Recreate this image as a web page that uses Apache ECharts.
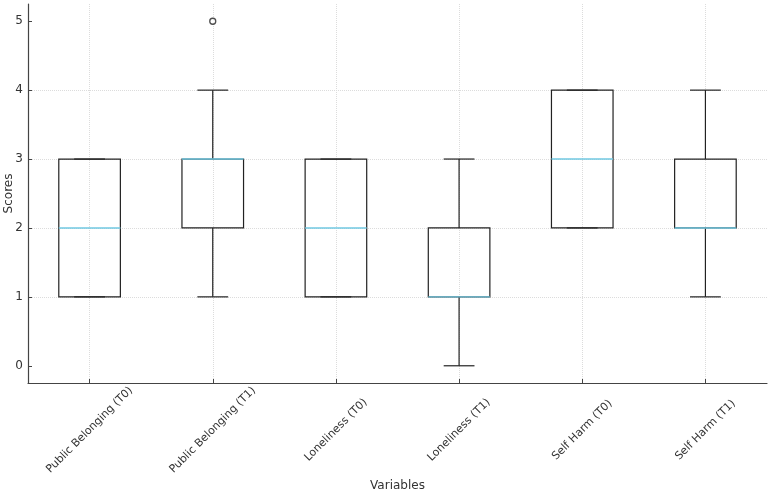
<!DOCTYPE html>
<html>
<head>
<meta charset="utf-8">
<script src="https://cdn.jsdelivr.net/npm/echarts@6/dist/echarts.min.js"></script>
<style>
  html, body { margin: 0; padding: 0; background: #fff; }
  #main { width: 771px; height: 493px; }
</style>
</head>
<body>
<div id="main"></div>
<script>
var categories = ['Public Belonging (T0)', 'Public Belonging (T1)', 'Loneliness (T0)',
                  'Loneliness (T1)', 'Self Harm (T0)', 'Self Harm (T1)'];
var lows    = [1, 1, 1, 0, 2, 1];
var q1s     = [1, 2, 1, 1, 2, 2];
var medians = [2, 3, 2, 1, 3, 2];
var q3s     = [3, 3, 3, 2, 4, 3];
var highs   = [3, 4, 3, 3, 4, 4];
var outliers = [[1, 5]];
var yTicks = [0, 1, 2, 3, 4, 5];
var xTicks = [0, 1, 2, 3, 4, 5];

var boxData = categories.map(function (c, i) {
    return [i, lows[i], q1s[i], medians[i], q3s[i], highs[i]];
});

var myChart = echarts.init(document.getElementById('main'));

var lineStyle = { stroke: '#222', lineWidth: 1.2, fill: null };

function renderBox(params, api) {
    var x = api.value(0);
    var pLow = api.coord([x, api.value(1)]);
    var pQ1 = api.coord([x, api.value(2)]);
    var pMed = api.coord([x, api.value(3)]);
    var pQ3 = api.coord([x, api.value(4)]);
    var pHigh = api.coord([x, api.value(5)]);
    var bw = api.size([1, 0])[0] * 0.5;
    var cw = bw * 0.5;
    var cx = pQ1[0];
    return {
        type: 'group',
        children: [
            { type: 'line', shape: { x1: cx, y1: pQ3[1], x2: cx, y2: pHigh[1] }, style: lineStyle },
            { type: 'line', shape: { x1: cx - cw / 2, y1: pHigh[1], x2: cx + cw / 2, y2: pHigh[1] }, style: lineStyle },
            { type: 'line', shape: { x1: cx, y1: pQ1[1], x2: cx, y2: pLow[1] }, style: lineStyle },
            { type: 'line', shape: { x1: cx - cw / 2, y1: pLow[1], x2: cx + cw / 2, y2: pLow[1] }, style: lineStyle },
            { type: 'rect', shape: { x: cx - bw / 2, y: pQ3[1], width: bw, height: pQ1[1] - pQ3[1] }, style: lineStyle },
            { type: 'line', shape: { x1: cx - bw / 2, y1: pMed[1], x2: cx + bw / 2, y2: pMed[1] },
              style: { stroke: '#70c8e2', lineWidth: 1.4 } }
        ]
    };
}

var axisText = { color: '#333', fontFamily: 'DejaVu Sans', fontSize: 12 };

myChart.setOption({
    animation: false,
    grid: { left: 28, right: 4, top: 4, bottom: 110, outerBoundsMode: 'none', containLabel: false },
    xAxis: {
        type: 'value', min: -0.5, max: 5.5,
        name: 'Variables', nameLocation: 'middle', nameGap: 97, nameMoveOverlap: false,
        nameTextStyle: axisText,
        axisLine: { onZero: false, lineStyle: { color: '#444', width: 1.2 } },
        axisTick: { inside: true, length: 4, customValues: xTicks, lineStyle: { color: '#444' } },
        axisLabel: {
            customValues: xTicks, rotate: 45, margin: 47,
            align: 'center', verticalAlign: 'middle',
            color: '#333', fontFamily: 'DejaVu Sans', fontSize: 11,
            formatter: function (v) { return categories[Math.round(v)] || ''; }
        },
        splitLine: { show: true, lineStyle: { color: '#dcdcdc', type: 'dotted' } }
    },
    yAxis: {
        type: 'value', min: -0.25, max: 5.25,
        name: 'Scores', nameLocation: 'middle', nameGap: 13, nameMoveOverlap: false,
        nameTextStyle: axisText,
        axisLine: { show: true, onZero: false, lineStyle: { color: '#444', width: 1.2 } },
        axisTick: { show: true, inside: true, length: 4, customValues: yTicks, lineStyle: { color: '#444' } },
        axisLabel: { customValues: yTicks, margin: 5, color: '#333', fontFamily: 'DejaVu Sans', fontSize: 12 },
        splitLine: { show: true, showMinLine: false, showMaxLine: false,
                     lineStyle: { color: '#dcdcdc', type: 'dotted' } }
    },
    series: [
        {
            type: 'custom',
            renderItem: renderBox,
            encode: { x: 0, y: [1, 2, 3, 4, 5] },
            data: boxData
        },
        {
            type: 'scatter',
            symbol: 'circle', symbolSize: 6,
            itemStyle: { color: '#fff', borderColor: '#222', borderWidth: 1.3 },
            data: outliers
        }
    ]
});
</script>
</body>
</html>
